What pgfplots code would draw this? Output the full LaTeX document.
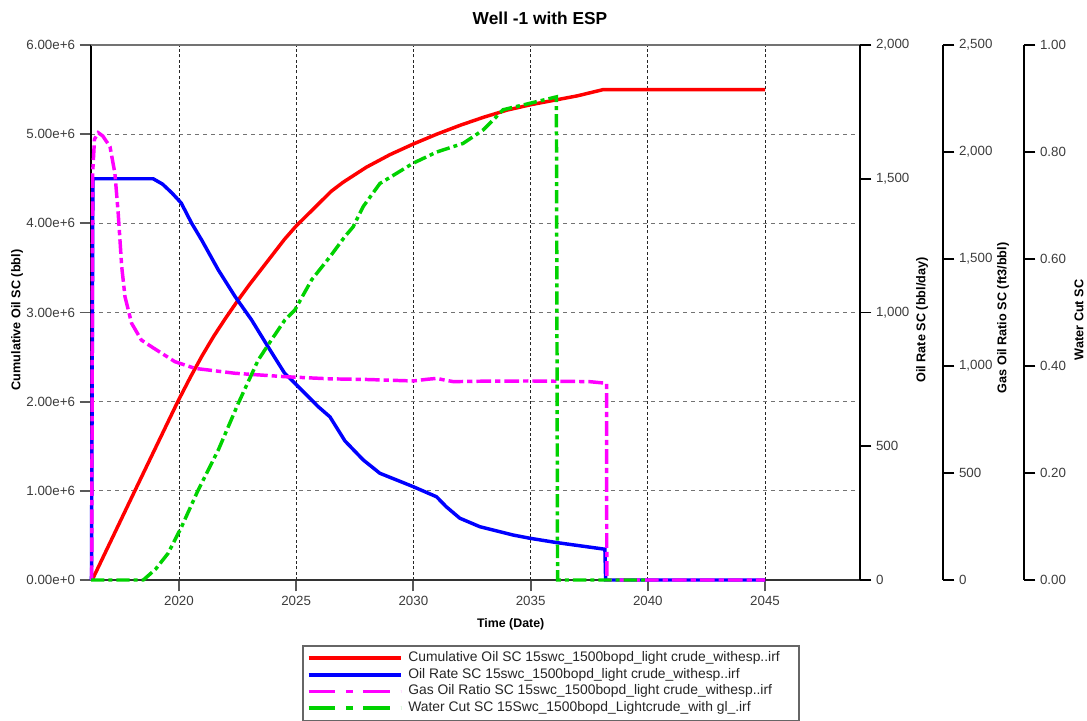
\documentclass[border=0pt]{standalone}
\usepackage{fontspec}
\setmainfont{Liberation Sans}
\usepackage{pgfplots}
\pgfplotsset{compat=1.18}
\definecolor{cred}{RGB}{255,0,0}
\definecolor{cblue}{RGB}{0,0,255}
\definecolor{cmag}{RGB}{255,0,255}
\definecolor{cgreen}{RGB}{0,210,0}
\definecolor{tickc}{RGB}{60,60,60}
\begin{document}
\begin{tikzpicture}
\useasboundingbox (0,0) rectangle (815.25pt,540pt);
\pgfplotsset{
  base/.style={
    scale only axis, width=576.75pt, height=401.25pt,
    xmin=2016.25, xmax=2049.05, ymin=0,
    anchor=south west, at={(68.25pt,105pt)},
    clip=false,
    tick align=outside, major tick length=8.5pt,
    ticklabel style={font=\fontsize{10}{12}\selectfont, text=tickc},
    /pgf/number format/assume math mode=true,
  },
  raxis/.style={
    scale only axis, width=1pt, height=401.25pt,
    xmin=0, xmax=1, ymin=0,
    anchor=south east,
    axis x line=none, axis y line*=right,
    y axis line style={line width=1.8pt, black, -},
    tick align=outside, major tick length=8.5pt,
    tick style={line width=1.4pt, black},
    ticklabel style={font=\fontsize{10}{12}\selectfont, text=tickc},
    /pgf/number format/assume math mode=true,
    /pgf/number format/1000 sep={,},
  },
}
% ---------------- main axis: cumulative oil ----------------
\begin{axis}[base, ymax=6,
  axis x line*=bottom, axis y line*=left,
  x axis line style={line width=1.8pt, black!80, -},
  y axis line style={line width=1.8pt, black, -},
  tick style={line width=1.4pt, black!65},
  xtick={2020,2025,2030,2035,2040,2045},
  xticklabel style={/pgf/number format/1000 sep={}},
  ytick={0,1,2,3,4,5,6},
  yticklabels={0.00e+0,1.00e+6,2.00e+6,3.00e+6,4.00e+6,5.00e+6,6.00e+6},
  xmajorgrids, ymajorgrids,
  major x grid style={black!85, line width=0.6pt, dash pattern=on 2.2pt off 1.8pt},
  major y grid style={black!55, line width=0.9pt, dash pattern=on 3pt off 3pt},
  legend style={at={(0.2744,-0.1215)}, anchor=north west, draw=black!60, line width=1.2pt,
    font=\fontsize{10.4}{12}\selectfont, text=black!85, inner sep=3pt, row sep=0pt,
    column sep=3pt,
    nodes={inner sep=1.5pt, text height=7.2pt, text depth=2.3pt},
    cells={anchor=west}},
  legend image code/.code={\draw[#1] (0pt,0pt) -- (69pt,0pt);},
]
\draw[black!55, line width=1.6pt] (rel axis cs:0,1) -- (rel axis cs:1,1);
\addplot[cred, line width=2.6pt] table {
x y
2016.30 0
2018.12 1.00
2019.95 2.00
2020.50 2.28
2021.00 2.52
2021.50 2.74
2022.00 2.94
2022.50 3.13
2023.00 3.31
2023.50 3.48
2024.00 3.65
2024.50 3.82
2025.00 3.97
2025.50 4.10
2026.00 4.23
2026.50 4.36
2027.00 4.46
2028.00 4.63
2029.00 4.77
2030.00 4.89
2031.00 5.00
2032.00 5.10
2033.00 5.19
2034.00 5.27
2035.00 5.33
2036.00 5.38
2037.00 5.43
2038.10 5.50
2045.00 5.50
};
\addlegendentry{Cumulative Oil SC 15swc\_1500bopd\_light crude\_withesp..irf\kern10pt}
\addlegendimage{cblue, line width=2.6pt}
\addlegendentry{Oil Rate SC 15swc\_1500bopd\_light crude\_withesp..irf}
\addlegendimage{cmag, line width=2.6pt, dash pattern=on 20pt off 8pt on 5pt off 8pt}
\addlegendentry{Gas Oil Ratio SC 15swc\_1500bopd\_light crude\_withesp..irf}
\addlegendimage{cgreen, line width=2.6pt, dash pattern=on 20pt off 8pt on 5pt off 8pt}
\addlegendentry{Water Cut SC 15Swc\_1500bopd\_Lightcrude\_with gl\_.irf}
\end{axis}
% ---------------- oil rate ----------------
\begin{axis}[base, ymax=2000,
  axis x line=none, axis y line*=right,
  y axis line style={line width=1.8pt, black, -},
  tick style={line width=1.4pt, black},
  ytick={0,500,1000,1500,2000},
  /pgf/number format/1000 sep={,},
]
\addplot[cblue, line width=2.6pt] table {
x y
2016.27 0
2016.33 1500
2018.90 1500
2019.30 1480
2019.70 1447
2020.10 1409
2020.54 1334
2020.97 1271
2021.68 1159
2022.40 1059
2023.10 972
2023.80 872
2024.50 774
2025.09 723
2025.94 648
2026.44 610
2027.08 520
2027.86 449
2028.57 399
2029.99 349
2030.99 311
2031.40 274
2031.98 231
2032.84 199
2034.26 168
2034.97 156
2036.10 140
2038.17 115
2038.20 0
2045.00 0
};
\end{axis}
% ---------------- gas oil ratio ----------------
\begin{axis}[base, ymax=2500, hide axis]
\addplot[cmag, line width=2.6pt, dash pattern=on 11pt off 3pt on 4pt off 3pt] table {
x y
2016.28 0
2016.32 1900
2016.40 2060
2016.56 2090
2016.75 2075
2017.06 2025
2017.27 1900
2017.41 1714
2017.56 1464
2017.70 1324
2017.98 1200
2018.40 1121
2018.83 1090
2019.83 1020
2020.68 989
2022.39 966
2024.52 950
2026.44 940
2028.00 937
2029.99 930
2030.60 938
2030.99 942
2031.30 935
2031.70 927
2033.00 929
2034.97 930
2037.50 927
2038.24 919
2038.25 0
2045.00 0
};
\end{axis}
\begin{axis}[raxis, at={(707.25pt,105pt)}, ymax=2500, ytick={0,500,1000,1500,2000,2500}]
\end{axis}
% ---------------- water cut ----------------
\begin{axis}[base, ymax=1, hide axis]
\addplot[cgreen, line width=2.6pt, dash pattern=on 10pt off 3pt on 3pt off 3pt] table {
x y
2016.25 0
2018.48 0
2019.00 0.02
2019.54 0.05
2020.12 0.10
2020.82 0.168
2021.68 0.243
2022.53 0.33
2023.38 0.411
2023.95 0.449
2024.52 0.486
2024.95 0.505
2025.66 0.561
2026.44 0.604
2027.08 0.642
2027.43 0.66
2027.86 0.698
2028.57 0.741
2029.99 0.779
2031.00 0.80
2032.12 0.816
2032.97 0.841
2033.54 0.866
2033.83 0.879
2034.97 0.891
2036.10 0.903
2036.15 0
2040.00 0
};
\end{axis}
\begin{axis}[raxis, at={(768pt,105pt)}, ymax=1, ytick={0,0.2,0.4,0.6,0.8,1},
  yticklabel style={/pgf/number format/.cd, fixed, fixed zerofill, precision=2}]
\end{axis}
% ---------------- texts ----------------
\node[font=\bfseries\fontsize{13}{15}\selectfont] at (405pt,526.5pt) {Well -1 with ESP};
\node[font=\bfseries\fontsize{9.3}{11}\selectfont] at (383pt,72pt) {Time (Date)};
\node[rotate=90, font=\bfseries\fontsize{9.5}{11}\selectfont] at (12.75pt,300pt) {Cumulative Oil SC (bbl)};
\node[rotate=90, font=\bfseries\fontsize{9.5}{11}\selectfont] at (691.5pt,300pt) {Oil Rate SC (bbl/day)};
\node[rotate=90, font=\bfseries\fontsize{9.5}{11}\selectfont] at (752.25pt,301.5pt) {Gas Oil Ratio SC (ft3/bbl)};
\node[rotate=90, font=\bfseries\fontsize{9.5}{11}\selectfont] at (809.25pt,300pt) {Water Cut SC};
\end{tikzpicture}
\end{document}
